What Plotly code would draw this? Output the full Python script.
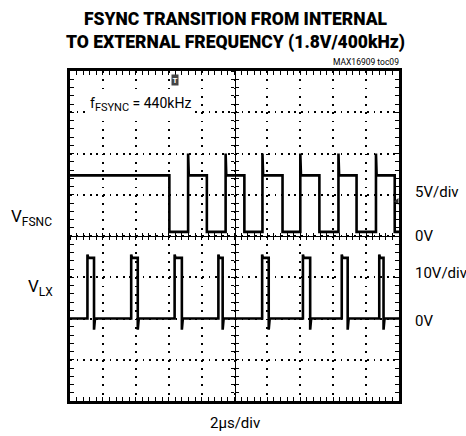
import plotly.graph_objects as go

# ---------------- data (time in µs, amplitudes in volts) ----------------
# FSYNC: starts high (internal clock), then external 440kHz; edges alternate fall/rise
fsync_edges_us = [6.04, 7.18, 8.32, 9.46, 10.60, 11.70, 12.92, 14.00, 15.16, 16.32, 17.42, 18.60, 19.74]
fsync_high_v = 7.35
fsync_low_v = 0.5
fsync_spike_v = 10.0

# LX switching node pulses
vlx_rise_us = [1.06, 3.72, 6.36, 9.02, 11.68, 14.16, 16.52, 18.80]
vlx_fall_us = [1.46, 4.12, 6.80, 9.28, 12.08, 14.60, 16.88, 19.06]
vlx_high_v = 14.7
vlx_low_v = 0.0
vlx_overshoot_v = 15.5
vlx_undershoot_v = -2.7

fsync_volts_per_div = 5.0
vlx_volts_per_div = 10.0
fsync_offset_div = 0.0
vlx_offset_div = -2.0
fsync_ref_marker_div = 0.84

time_per_div_us = 2.0
n_xdiv = 10
n_ydiv = 8
t_end = time_per_div_us * n_xdiv

# ---------------- build waveforms ----------------
ft, fv = [0.0], [fsync_high_v]
high = True
for e in fsync_edges_us:
    if high:
        ft += [e, e]
        fv += [fsync_high_v, fsync_low_v]
    else:
        ft += [e, e, e + 0.04]
        fv += [fsync_low_v, fsync_spike_v, fsync_high_v]
    high = not high
ft.append(t_end)
fv.append(fsync_high_v if high else fsync_low_v)
fy = [v / fsync_volts_per_div + fsync_offset_div for v in fv]

lt, lv = [0.0], [vlx_low_v]
for r, f in zip(vlx_rise_us, vlx_fall_us):
    lt += [r, r, r + 0.05, f, f, f + 0.06]
    lv += [vlx_low_v, vlx_overshoot_v, vlx_high_v, vlx_high_v, vlx_undershoot_v, vlx_low_v]
lt.append(t_end)
lv.append(vlx_low_v)
ly = [v / vlx_volts_per_div + vlx_offset_div for v in lv]

FONT = "Roboto, Liberation Sans, sans-serif"

fig = go.Figure()
fig.add_trace(go.Scatter(x=ft, y=fy, mode="lines", line=dict(color="black", width=2.6),
                         showlegend=False, hoverinfo="skip"))
fig.add_trace(go.Scatter(x=lt, y=ly, mode="lines", line=dict(color="black", width=2.6),
                         showlegend=False, hoverinfo="skip"))
fig.add_trace(go.Scatter(x=[t_end - 0.12], y=[fsync_ref_marker_div], mode="markers",
                         marker=dict(symbol="triangle-left", size=6, color="#333"),
                         showlegend=False, hoverinfo="skip"))
# dummy traces to realise the centre graticule axes
for xa in ["x2", "x3"]:
    fig.add_trace(go.Scatter(x=[None], y=[None], xaxis=xa, yaxis="y", showlegend=False))
for ya in ["y2", "y3"]:
    fig.add_trace(go.Scatter(x=[None], y=[None], xaxis="x", yaxis=ya, showlegend=False))

W, H = 466, 436
ML, MR, MT, MB = 70, 67, 71, 35
pw, ph = W - ML - MR, H - MT - MB
def px(xp):
    return (xp - ML) / pw
def py(yp):
    return (H - MB - yp) / ph

xr = [0, t_end]
yr = [-n_ydiv / 2, n_ydiv / 2]

common_frame = dict(showline=True, linewidth=3, linecolor="black", mirror="ticks",
                    ticks="inside", ticklen=4, tickwidth=1.2, tickcolor="black",
                    showticklabels=False, zeroline=False, showgrid=True,
                    gridcolor="black", gridwidth=1.8, fixedrange=True)
fig.update_layout(
    width=W, height=H,
    margin=dict(l=ML, r=MR, t=MT, b=MB),
    paper_bgcolor="white", plot_bgcolor="white",
    font=dict(family=FONT, color="black"),
    xaxis=dict(range=xr, dtick=time_per_div_us, tick0=0, griddash="1.8px,6.45px",
               minor=dict(dtick=time_per_div_us / 5, ticks="inside", ticklen=4,
                          tickwidth=1.2, tickcolor="black", showgrid=False),
               **common_frame),
    yaxis=dict(range=yr, dtick=1, tick0=0, griddash="1.8px,4.8px",
               minor=dict(dtick=0.2, ticks="inside", ticklen=4,
                          tickwidth=1.2, tickcolor="black", showgrid=False),
               **common_frame),
)
center_x = dict(range=xr, overlaying="x", anchor="free", position=0.5, showgrid=False,
                zeroline=False, showline=True, linewidth=1.3, linecolor="black",
                dtick=time_per_div_us / 5, tick0=0, ticklen=3, tickwidth=1.2,
                tickcolor="black", showticklabels=False, fixedrange=True)
center_y = dict(range=yr, overlaying="y", anchor="free", position=0.5, showgrid=False,
                zeroline=False, showline=True, linewidth=1.3, linecolor="black",
                dtick=0.2, tick0=0, ticklen=3, tickwidth=1.2,
                tickcolor="black", showticklabels=False, fixedrange=True)
fig.update_layout(
    xaxis2=dict(ticks="outside", **center_x),
    xaxis3=dict(ticks="inside", **center_x),
    yaxis2=dict(ticks="outside", **center_y),
    yaxis3=dict(ticks="inside", **center_y),
)

ann = []
def A(text, x, y, size, xanchor="center", xref="paper", yref="paper", weight=None, **kw):
    f = dict(size=size, family=FONT, color="black")
    if weight:
        f["weight"] = weight
    ann.append(dict(text=text, x=x, y=y, xref=xref, yref=yref, xanchor=xanchor,
                    yanchor="middle", showarrow=False, font=f, **kw))

def sub(s, size, shift):
    return "<span style='font-size:%dpx;baseline-shift:-%dpx'>%s</span>" % (size, shift, s)

A("FSYNC TRANSITION FROM INTERNAL", px(236), py(19), 17.5, weight=900)
A("TO EXTERNAL FREQUENCY (1.8V/400kHz)", px(235), py(42), 17.5, weight=900)
A("MAX16909 toc09", px(401), py(62), 8.5, xanchor="right")
A("f" + sub("FSYNC", 11, 3) + " = 440kHz", px(89), 3.2, 14, xanchor="left", yref="y",
  bgcolor="white", borderpad=0)
A("V" + sub("FSNC", 12, 4), px(9), 0.45, 17, xanchor="left", yref="y")
A("V" + sub("LX", 12, 4), px(26), -1.25, 17, xanchor="left", yref="y")
A("5V/div", px(413), 1.06, 15, xanchor="left", yref="y")
A("0V", px(413), 0.0, 15, xanchor="left", yref="y")
A("10V/div", px(413), -0.9, 15, xanchor="left", yref="y")
A("0V", px(413), -2.05, 15, xanchor="left", yref="y")
A("2µs/div", px(235), py(423), 15)
ann.append(dict(text="<b>T</b>", x=6.4, y=3.78, xref="x", yref="y", showarrow=False,
                font=dict(size=8, color="white", family=FONT), bgcolor="#444", borderpad=0.5))
fig.update_layout(annotations=ann)

fig.write_html("out.html", config={"displayModeBar": False},
               post_script="document.body.style.margin='0';")
